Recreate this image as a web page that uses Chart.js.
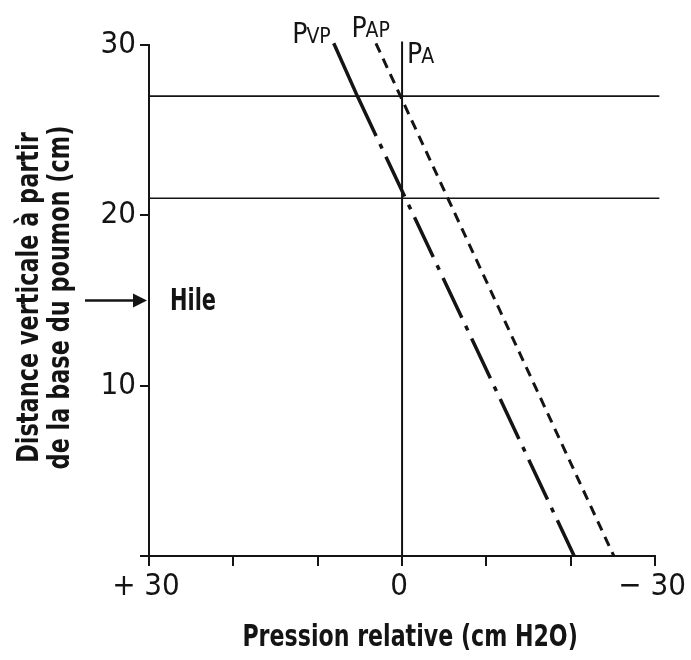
<!DOCTYPE html>
<html>
<head>
<meta charset="utf-8">
<script src="https://cdn.jsdelivr.net/npm/chart.js@4.4.1/dist/chart.umd.min.js"></script>
<style>
  html, body { margin: 0; padding: 0; background: #fff; }
</style>
</head>
<body>
<canvas id="chart" width="691" height="660"></canvas>
<script>
// Pressure (cm H2O, positive to the left) against height above lung base (cm)
const pvpUpper = [{x: 8.1, y: 30.1}, {x: 5.3, y: 27}];
const pvpLower = [{x: 5.3, y: 27}, {x: -20.4, y: 0}];
const papLine = [{x: 3.1, y: 30.1}, {x: -25.1, y: 0}];
const paLine = [{x: 0, y: 0}, {x: 0, y: 30.2}];
const zoneLevels = [27, 21];
const hileLevel = 15;
const xTickText = {'30': '+ 30', '0': '0', '-30': '\u2212 30'};
const yTitleLines = ['Distance verticale \u00e0 partir', 'de la base du poumon (cm)'];
const xTitle = 'Pression relative (cm H2O)';

const FONT = "'Liberation Sans Narrow', 'DejaVu Sans Condensed', 'Roboto Condensed', sans-serif";
const INK = '#141414';

// horizontal zone boundaries run across the whole plot (a bit past the axis end)
const zoneData = zoneLevels.map(lv => [{x: 30, y: lv}, {x: -30.5, y: lv}]);

// text drawn narrower than the font, like the condensed type of the original
function squeezedText(ctx, text, x, y, sx) {
    ctx.save();
    ctx.translate(x, y);
    ctx.scale(sx, 1);
    ctx.fillText(text, 0, 0);
    ctx.restore();
}

// labels, hilum arrow and the axis titles
const annotPlugin = {
    id: 'annotations',
    afterDatasetsDraw: (chart) => {
        const {ctx, chartArea, scales} = chart;
        const xs = scales.x, ys = scales.y;
        ctx.save();
        ctx.fillStyle = INK;
        ctx.strokeStyle = INK;

        // P + small caps subscript
        const drawP = (sub, x, y, align) => {
            ctx.font = '28px ' + FONT;
            const wP = ctx.measureText('P').width;
            ctx.font = '21px ' + FONT;
            const wS = ctx.measureText(sub).width;
            let left = align === 'right' ? x - wP - wS : x;
            ctx.textBaseline = 'alphabetic';
            ctx.textAlign = 'left';
            ctx.font = '28px ' + FONT;
            ctx.fillText('P', left, y);
            ctx.font = '21px ' + FONT;
            ctx.fillText(sub, left + wP - 1, y);
        };
        const pvpTop = pvpUpper[0], papTop = papLine[0], paTop = paLine[1];
        drawP('VP', xs.getPixelForValue(pvpTop.x) - 2, ys.getPixelForValue(pvpTop.y) + 0, 'right');
        drawP('AP', xs.getPixelForValue(papTop.x) + 15, ys.getPixelForValue(papTop.y) - 6, 'right');
        drawP('A', xs.getPixelForValue(paTop.x) + 5, ys.getPixelForValue(paTop.y) + 21, 'left');

        // Hile arrow
        const hy = ys.getPixelForValue(hileLevel);
        ctx.lineWidth = 2.5;
        ctx.beginPath();
        ctx.moveTo(chartArea.left - 64, hy);
        ctx.lineTo(chartArea.left - 10, hy);
        ctx.stroke();
        ctx.beginPath();
        ctx.moveTo(chartArea.left - 2, hy);
        ctx.lineTo(chartArea.left - 16, hy - 7);
        ctx.lineTo(chartArea.left - 16, hy + 7);
        ctx.closePath();
        ctx.fill();
        ctx.font = 'bold 31px ' + FONT;
        ctx.textAlign = 'left';
        ctx.textBaseline = 'middle';
        squeezedText(ctx, 'Hile', chartArea.left + 21, hy + 1, 0.75);

        // x title
        ctx.font = 'bold 30px ' + FONT;
        ctx.textAlign = 'center';
        ctx.textBaseline = 'alphabetic';
        squeezedText(ctx, xTitle, (chartArea.left + chartArea.right) / 2 + 8, chartArea.bottom + 90, 0.82);

        // y title, two rotated lines
        const cy = (chartArea.top + chartArea.bottom) / 2 - 3;
        ctx.translate(0, cy);
        ctx.rotate(-Math.PI / 2);
        ctx.textAlign = 'center';
        ctx.font = 'bold 30px ' + FONT;
        squeezedText(ctx, yTitleLines[0], 0, 38, 0.83);
        squeezedText(ctx, yTitleLines[1], 0, 69, 0.83);
        ctx.restore();
    }
};

const lineSet = (data, width, dash) => ({
    data: data,
    showLine: true,
    borderColor: INK,
    borderWidth: width,
    borderDash: dash,
    pointRadius: 0,
    fill: false,
    clip: false
});

new Chart(document.getElementById('chart'), {
    type: 'scatter',
    data: {
        datasets: [
            lineSet(zoneData[0], 1.6, []),
            lineSet(zoneData[1], 1.6, []),
            lineSet(paLine, 2, []),
            lineSet(pvpUpper, 3.5, []),
            lineSet(pvpLower, 3.5, [44, 9, 5, 9]),
            lineSet(papLine, 3, [10, 7])
        ]
    },
    options: {
        responsive: false,
        animation: false,
        layout: { padding: { left: 0, right: 31, top: 45, bottom: 0 } },
        scales: {
            x: {
                type: 'linear',
                reverse: true,
                min: -30,
                max: 30,
                afterFit: (s) => { s.height = 104; },
                border: { display: true, color: INK, width: 2 },
                grid: { drawOnChartArea: false, drawTicks: true, tickLength: 10, color: INK, lineWidth: 2 },
                ticks: {
                    stepSize: 10,
                    maxRotation: 0,
                    autoSkip: false,
                    padding: 2,
                    labelOffset: -3,
                    color: INK,
                    font: { family: FONT, size: 31 },
                    callback: (v) => xTickText[String(v)] || ''
                }
            },
            y: {
                type: 'linear',
                min: 0,
                max: 30,
                afterFit: (s) => { s.width = 149; },
                border: { display: true, color: INK, width: 2 },
                grid: { drawOnChartArea: false, drawTicks: true, tickLength: 9, color: INK, lineWidth: 2 },
                ticks: {
                    stepSize: 10,
                    padding: 4,
                    color: INK,
                    font: { family: FONT, size: 31 },
                    callback: (v) => v === 0 ? '' : String(v)
                }
            }
        },
        plugins: {
            legend: { display: false },
            tooltip: { enabled: false }
        }
    },
    plugins: [annotPlugin]
});
</script>
</body>
</html>
